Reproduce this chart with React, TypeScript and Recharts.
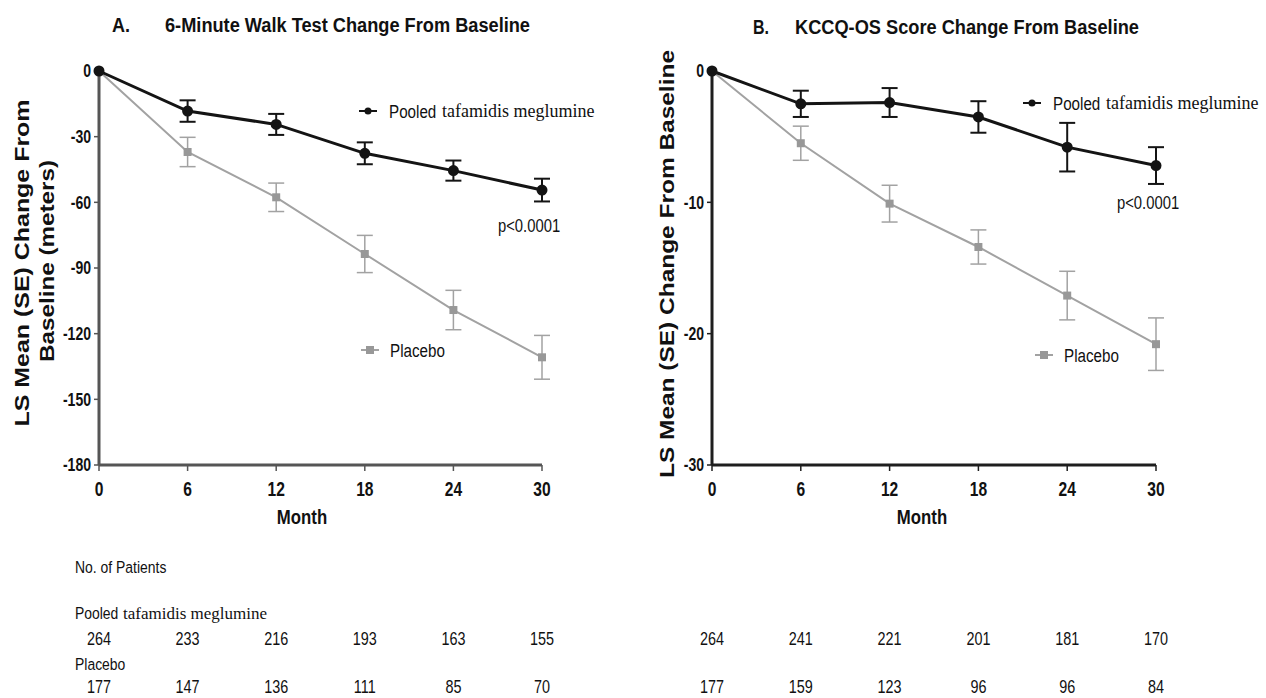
import { ComposedChart, Line, ErrorBar, XAxis, YAxis, Scatter } from 'recharts'

const months = [0, 6, 12, 18, 24, 30]
const walkTafamidis = [0, -18.3, -24.4, -37.6, -45.5, -54.4]
const walkTafamidisSE = [0, 4.9, 4.8, 5.0, 4.6, 5.2]
const walkPlacebo = [0, -37.0, -57.7, -83.6, -109.2, -130.8]
const walkPlaceboSE = [0, 6.7, 6.5, 8.5, 9.0, 10.0]
const kccqTafamidis = [0, -2.5, -2.4, -3.5, -5.8, -7.2]
const kccqTafamidisSE = [0, 1.0, 1.1, 1.2, 1.85, 1.4]
const kccqPlacebo = [0, -5.5, -10.1, -13.4, -17.1, -20.8]
const kccqPlaceboSE = [0, 1.3, 1.4, 1.3, 1.85, 2.0]
const walkPooledN = [264, 233, 216, 193, 163, 155]
const walkPlaceboN = [177, 147, 136, 111, 85, 70]
const kccqPooledN = [264, 241, 221, 201, 181, 170]
const kccqPlaceboN = [177, 159, 123, 96, 96, 84]
const walkTicks = [-180, -150, -120, -90, -60, -30, 0]
const kccqTicks = [-30, -20, -10, 0]

const SANS = '"Liberation Sans", Arial, sans-serif'
const SERIF = '"Liberation Serif", "Times New Roman", serif'

const BLACK = '#141414'
const GREY = '#a2a2a2'

const ROW1_Y = 639
const ROW2_Y = 687

// no narrow face installed, so squeeze Liberation Sans horizontally
function NText({ x, y, sx = 0.8, children, ...rest }: any) {
  return (
    <text transform={`translate(${x},${y}) scale(${sx},1)`} fontFamily={SANS} fill="#111" {...rest}>
      {children}
    </text>
  )
}

interface PanelProps {
  left: number
  width: number
  marginLeft: number
  marginRight: number
  axisColor: string
  domain: [number, number]
  ticks: number[]
  taf: number[]
  tafSE: number[]
  pla: number[]
  plaSE: number[]
  pooledN: number[]
  placeboN: number[]
}

function SquareDot(props: any) {
  const { cx, cy, index } = props
  if (cx == null || cy == null) return null
  return <rect key={`sq-${index}`} x={cx - 4} y={cy - 4} width={8} height={8} fill="#989898" />
}

function XTick(props: any) {
  return (
    <NText x={props.x} y={props.y} dy="0.71em" textAnchor="middle" fontSize={20} fontWeight={700} sx={0.78}>
      {props.payload.value}
    </NText>
  )
}

function YTick(props: any) {
  return (
    <NText x={props.x} y={props.y} dy="0.36em" textAnchor="end" fontSize={18} fontWeight={700} sx={0.78}>
      {props.payload.value}
    </NText>
  )
}

function countShape(y: number) {
  return (props: any) => (
    <NText x={props.cx} y={y} dy="0.35em" textAnchor="middle" fontSize={18} sx={0.8}>
      {props.payload.n}
    </NText>
  )
}

function Panel(p: PanelProps) {
  const data = months.map((m, i) => ({
    month: m,
    taf: p.taf[i],
    tafSE: p.tafSE[i],
    pla: p.pla[i],
    plaSE: p.plaSE[i],
  }))
  const pooledRows = months.map((m, i) => ({ month: m, n: p.pooledN[i] }))
  const placeboRows = months.map((m, i) => ({ month: m, n: p.placeboN[i] }))
  return (
    <div style={{ position: 'absolute', left: p.left, top: 0 }}>
      <ComposedChart
        width={p.width}
        height={698}
        data={data}
        margin={{ top: 71, right: p.marginRight, bottom: 203, left: p.marginLeft }}
      >
        <XAxis
          dataKey="month"
          type="number"
          domain={[0, 30]}
          ticks={months}
          height={30}
          tickSize={6}
          tickMargin={11}
          stroke={p.axisColor}
          axisLine={{ stroke: p.axisColor, strokeWidth: 3 }}
          tickLine={{ stroke: p.axisColor, strokeWidth: 1.5 }}
          tick={<XTick />}
        />
        <YAxis
          type="number"
          domain={p.domain}
          ticks={p.ticks}
          width={60}
          tickSize={5}
          tickMargin={3}
          interval={0}
          stroke={p.axisColor}
          axisLine={{ stroke: p.axisColor, strokeWidth: 3 }}
          tickLine={{ stroke: p.axisColor, strokeWidth: 1.5 }}
          tick={<YTick />}
        />
        <Line
          dataKey="pla"
          stroke={GREY}
          strokeWidth={2}
          dot={<SquareDot />}
          activeDot={false}
          isAnimationActive={false}
        >
          <ErrorBar dataKey="plaSE" width={8} stroke={GREY} strokeWidth={1.5} direction="y" />
        </Line>
        <Line
          dataKey="taf"
          stroke={BLACK}
          strokeWidth={3}
          dot={{ r: 4, fill: BLACK, stroke: BLACK }}
          activeDot={false}
          isAnimationActive={false}
        >
          <ErrorBar dataKey="tafSE" width={8} stroke={BLACK} strokeWidth={2} direction="y" />
        </Line>
        <Scatter
          data={pooledRows}
          dataKey={() => 0}
          shape={countShape(ROW1_Y)}
          isAnimationActive={false}
        />
        <Scatter
          data={placeboRows}
          dataKey={() => 0}
          shape={countShape(ROW2_Y)}
          isAnimationActive={false}
        />
      </ComposedChart>
    </div>
  )
}

function PooledLegend({ x, y }: { x: number; y: number }) {
  return (
    <g>
      <line x1={x - 9} x2={x + 9} y1={y} y2={y} stroke={BLACK} strokeWidth={2} />
      <circle cx={x} cy={y} r={3.5} fill={BLACK} />
      <NText x={x + 21} y={y} dy="0.35em" fontSize={19} sx={0.8}>Pooled</NText>
      <text x={x + 74} y={y} dy="0.35em" fontSize={18} fontFamily={SERIF} fill="#111">
        tafamidis meglumine
      </text>
    </g>
  )
}

function PlaceboLegend({ x, y }: { x: number; y: number }) {
  return (
    <g>
      <line x1={x - 9} x2={x + 9} y1={y} y2={y} stroke={GREY} strokeWidth={2} />
      <rect x={x - 4} y={y - 4} width={8} height={8} fill="#989898" />
      <NText x={x + 20} y={y} dy="0.35em" fontSize={19} sx={0.8}>
        Placebo
      </NText>
    </g>
  )
}

function Overlay() {
  const title = { fontFamily: SANS, fontWeight: 700, fontSize: 20, fill: '#111' }
  const ylab = { fontFamily: SANS, fontWeight: 700, fontSize: 20, fill: '#111', textAnchor: 'middle' as const }
  return (
    <svg
      width={1266}
      height={698}
      style={{ position: 'absolute', left: 0, top: 0, pointerEvents: 'none' }}
    >
      <text x={112} y={25} dy="0.35em" {...title} textLength={18} lengthAdjust="spacingAndGlyphs">A.</text>
      <text x={165} y={25} dy="0.35em" {...title} textLength={365} lengthAdjust="spacingAndGlyphs">
        6-Minute Walk Test  Change From Baseline
      </text>
      <text x={753} y={27} dy="0.35em" {...title} textLength={16} lengthAdjust="spacingAndGlyphs">B.</text>
      <text x={795} y={27} dy="0.35em" {...title} textLength={344} lengthAdjust="spacingAndGlyphs">
        KCCQ-OS Score Change From Baseline
      </text>

      <text transform="translate(22,263) rotate(-90)" dy="0.35em" {...ylab} textLength={327} lengthAdjust="spacingAndGlyphs">
        LS Mean (SE) Change From
      </text>
      <text transform="translate(47,261) rotate(-90)" dy="0.35em" {...ylab} textLength={202} lengthAdjust="spacingAndGlyphs">
        Baseline (meters)
      </text>
      <text transform="translate(667,264) rotate(-90)" dy="0.35em" {...ylab} textLength={428} lengthAdjust="spacingAndGlyphs">
        LS Mean (SE) Change From Baseline
      </text>

      <NText x={302} y={517} dy="0.35em" textAnchor="middle" fontSize={21} fontWeight={700} sx={0.8}>Month</NText>
      <NText x={922} y={517} dy="0.35em" textAnchor="middle" fontSize={21} fontWeight={700} sx={0.8}>Month</NText>

      <PooledLegend x={368} y={111} />
      <PlaceboLegend x={370} y={350} />
      <PooledLegend x={1032} y={103} />
      <PlaceboLegend x={1044} y={355} />

      <NText x={498} y={225} dy="0.35em" fontSize={19} sx={0.78}>p&lt;0.0001</NText>
      <NText x={1117} y={202} dy="0.35em" fontSize={19} sx={0.78}>p&lt;0.0001</NText>

      <NText x={75} y={567} dy="0.35em" fontSize={17} sx={0.82}>No. of Patients</NText>
      <NText x={75} y={613} dy="0.35em" fontSize={17} sx={0.82}>Pooled</NText>
      <text x={123} y={613} dy="0.35em" fontFamily={SERIF} fontSize={17} fill="#111">
        tafamidis meglumine
      </text>
      <NText x={75} y={664} dy="0.35em" fontSize={17} sx={0.82}>Placebo</NText>
    </svg>
  )
}

export default function App() {
  return (
    <div style={{ position: 'absolute', left: 0, top: 0, width: 1266, height: 698, background: '#fff' }}>
      <Panel
        left={0}
        width={640}
        marginLeft={39}
        marginRight={98}
        axisColor="#555"
        domain={[-180, 0]}
        ticks={walkTicks}
        taf={walkTafamidis}
        tafSE={walkTafamidisSE}
        pla={walkPlacebo}
        plaSE={walkPlaceboSE}
        pooledN={walkPooledN}
        placeboN={walkPlaceboN}
      />
      <Panel
        left={640}
        width={626}
        marginLeft={12}
        marginRight={110}
        axisColor="#1e1e1e"
        domain={[-30, 0]}
        ticks={kccqTicks}
        taf={kccqTafamidis}
        tafSE={kccqTafamidisSE}
        pla={kccqPlacebo}
        plaSE={kccqPlaceboSE}
        pooledN={kccqPooledN}
        placeboN={kccqPlaceboN}
      />
      <Overlay />
    </div>
  )
}
